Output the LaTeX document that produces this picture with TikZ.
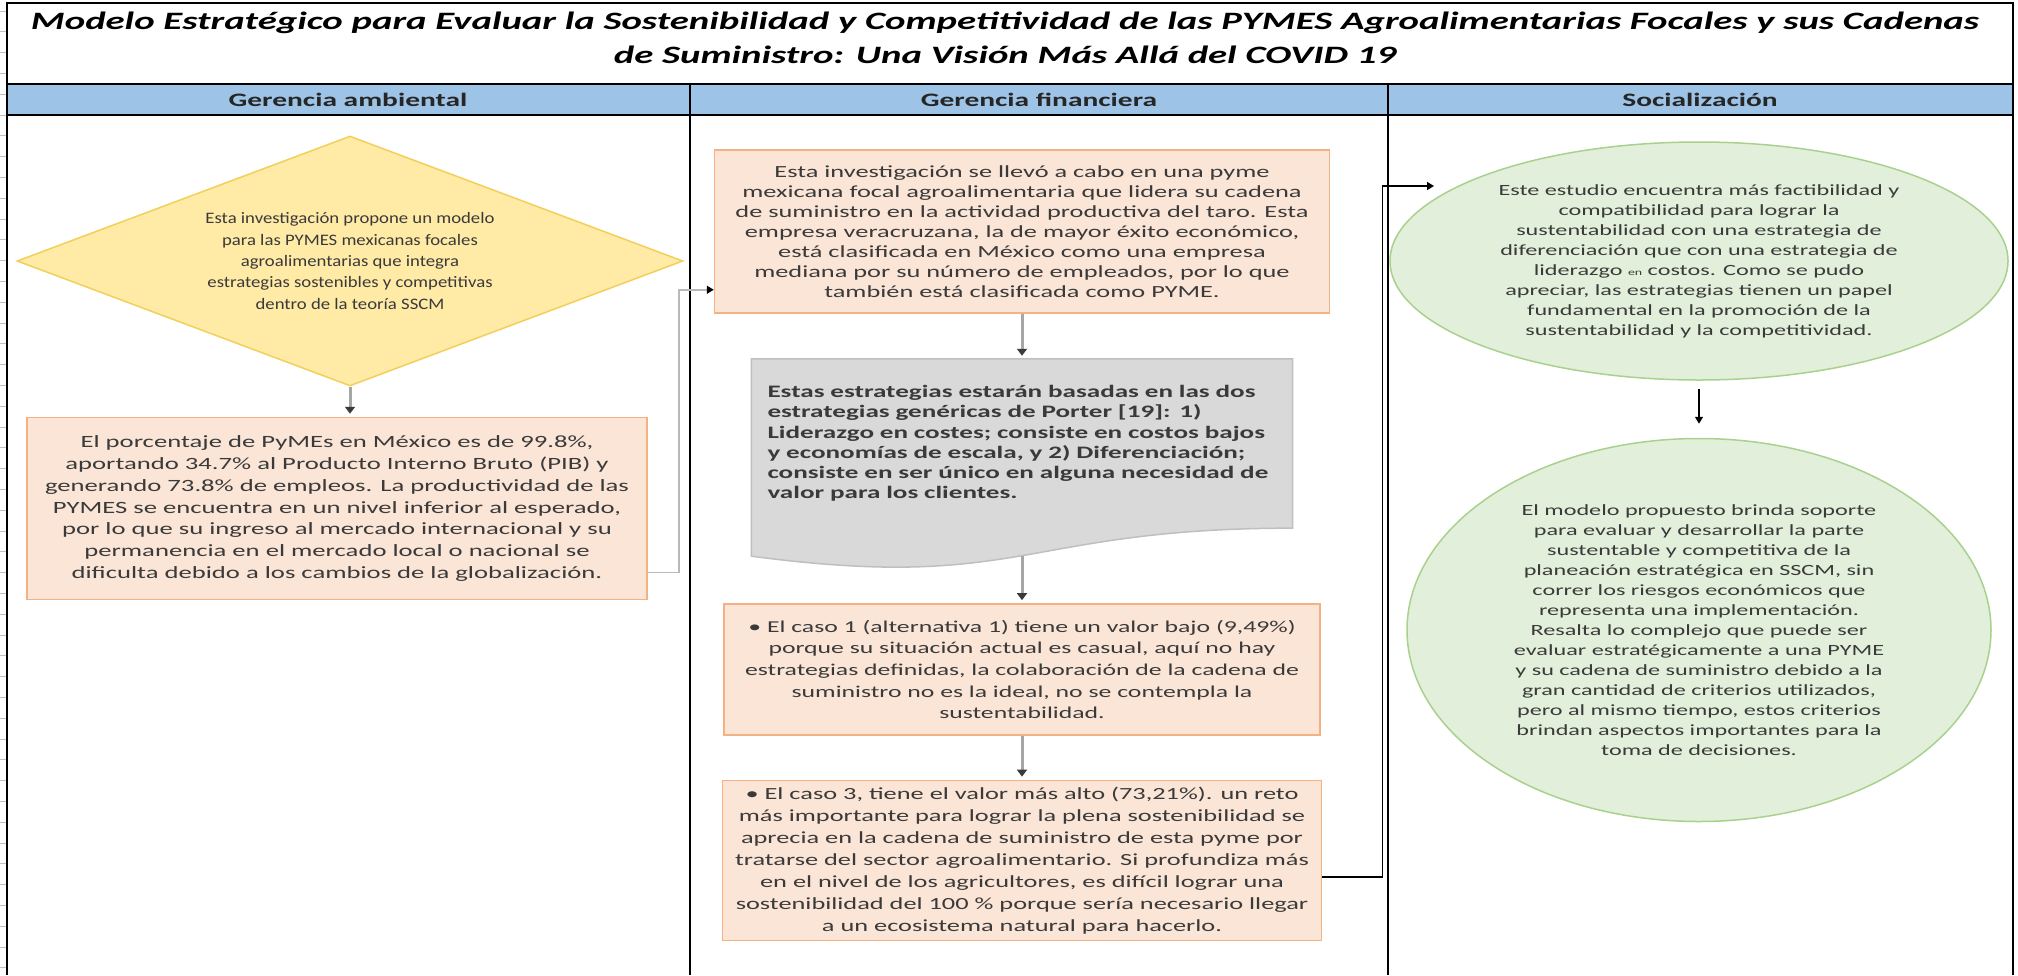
\documentclass[tikz,border=0pt]{standalone}
\usepackage{fontspec}
\setmainfont{Carlito}[FakeStretch=1.55]
\newfontfamily\dianarrow{Carlito}[FakeStretch=1.17]
\usetikzlibrary{arrows.meta,backgrounds,calc,positioning,shapes.geometric}

\definecolor{headblue}{HTML}{9DC3E6}
\definecolor{orfill}{HTML}{FBE5D6}
\definecolor{orline}{HTML}{F4B183}
\definecolor{yelfill}{HTML}{FFEAA6}
\definecolor{yelline}{HTML}{F2CF5B}
\definecolor{grfill}{HTML}{D9D9D9}
\definecolor{grline}{HTML}{BFBFBF}
\definecolor{gnfill}{HTML}{E2EFDA}
\definecolor{gnline}{HTML}{A9D18E}
\definecolor{inkgray}{HTML}{3A3A3A}

\begin{document}
\begin{tikzpicture}[x=1pt, y=1pt, node distance= 30pt,
    orangebox/.style={rectangle, draw=orline, fill=orfill, line width=1.5pt, inner sep=0pt, align=center, text=inkgray},
    decision/.style={diamond, draw=yelline, fill=yelfill, line width=1.5pt, inner sep=0pt, shape aspect=2.66, align=center, text=inkgray},
    docbox/.style={rectangle, inner sep=0pt, align=left, text=inkgray},
    greenoval/.style={ellipse, draw=gnline, fill=gnfill, line width=1.5pt, inner sep=0pt, align=center, text=inkgray},
    flow/.style={draw=gray!70, line width=3pt, shorten >=3pt, -{Triangle[width=10pt,length=7pt,color=inkgray]}},
    link/.style={line width=1.5pt, -{Triangle[width=8pt,length=7pt]}}]
      \useasboundingbox (0,0) rectangle (2018,-975);
      \foreach \k in {0,...,46}
        \draw[black!25, line width=1pt] (0,{-11-20.8*\k}) -- (6,{-11-20.8*\k});
      \draw[line width=2pt] (7,-975) -- (7,-3) -- (2013,-3) -- (2013,-975);
      \draw[line width=2pt, fill=headblue] (7,-84) rectangle (2013,-115);
      \draw[line width=2pt] (690,-84) -- (690,-975) (1388,-84) -- (1388,-975);

      \node (title) at (1005,-38) [font=\fontsize{25}{34}\selectfont\bfseries\itshape, align=center]
        {Modelo Estratégico para Evaluar la Sostenibilidad y Competitividad de las PYMES Agroalimentarias Focales y sus Cadenas\\de Suministro: Una Visión Más Allá del COVID 19};
      \begin{scope}[every node/.style={font=\fontsize{19}{20}\selectfont\bfseries, text=black!85}]
        \node (hamb) at (348,-100) {Gerencia ambiental};
        \node (hfin) at (1039,-100) {Gerencia financiera};
        \node (hsoc) at (1700,-100) {Socialización};
      \end{scope}

      \node (dia) at (350,-261) [decision, minimum width=666pt, minimum height=250pt, font=\dianarrow\fontsize{16}{21.3}\selectfont]
        {Esta investigación propone un modelo\\para las PYMES mexicanas focales\\agroalimentarias que integra\\estrategias sostenibles y competitivas\\dentro de la teoría SSCM};
      \node (pct) [orangebox, below=30pt of dia, xshift=-13pt, minimum width=620pt, minimum height=182pt, font=\fontsize{17.2}{21.8}\selectfont]
        {El porcentaje de PyMEs en México es de 99.8\%,\\aportando 34.7\% al Producto Interno Bruto (PIB) y\\generando 73.8\% de empleos. La productividad de las\\PYMES se encuentra en un nivel inferior al esperado,\\por lo que su ingreso al mercado internacional y su\\permanencia en el mercado local o nacional se\\dificulta debido a los cambios de la globalización.};

      \node (caso) at (1022,-231.5) [orangebox, minimum width=615pt, minimum height=163pt, font=\fontsize{17}{20}\selectfont]
        {Esta investigación se llevó a cabo en una pyme\\mexicana focal agroalimentaria que lidera su cadena\\de suministro en la actividad productiva del taro. Esta\\empresa veracruzana, la de mayor éxito económico,\\está clasificada en México como una empresa\\mediana por su número de empleados, por lo que\\también está clasificada como PYME.};
      \node (porter) [docbox, below=45pt of caso, minimum width=541pt, minimum height=169pt, text width=509pt, font=\fontsize{17.5}{20.3}\selectfont\bfseries]
        {Estas estrategias estarán basadas en las dos\\estrategias genéricas de Porter [19]: 1)\\Liderazgo en costes; consiste en costos bajos\\y economías de escala, y 2) Diferenciación;\\consiste en ser único en alguna necesidad de\\valor para los clientes.};
      \node (alt1) [orangebox, below=75pt of porter, minimum width=596pt, minimum height=131pt, font=\fontsize{16.6}{21.7}\selectfont]
        {• El caso 1 (alternativa 1) tiene un valor bajo (9,49\%)\\porque su situación actual es casual, aquí no hay\\estrategias definidas, la colaboración de la cadena de\\suministro no es la ideal, no se contempla la\\sustentabilidad.};
      \node (alt3) [orangebox, below=44pt of alt1, minimum width=599pt, minimum height=160pt, font=\fontsize{17}{22}\selectfont]
        {• El caso 3, tiene el valor más alto (73,21\%). un reto\\más importante para lograr la plena sostenibilidad se\\aprecia en la cadena de suministro de esta pyme por\\tratarse del sector agroalimentario. Si profundiza más\\en el nivel de los agricultores, es difícil lograr una\\sostenibilidad del 100 \% porque sería necesario llegar\\a un ecosistema natural para hacerlo.};

      \node (concl) at (1699,-261) [greenoval, minimum width=618pt, minimum height=238pt, font=\fontsize{15.6}{20}\selectfont]
        {Este estudio encuentra más factibilidad y\\compatibilidad para lograr la\\sustentabilidad con una estrategia de\\diferenciación que con una estrategia de\\liderazgo {\fontsize{9}{9}\selectfont en} costos. Como se pudo\\apreciar, las estrategias tienen un papel\\fundamental en la promoción de la\\sustentabilidad y la competitividad.};
      \node (model) [greenoval, below=57pt of concl, minimum width=584pt, minimum height=383pt, font=\fontsize{15.6}{20}\selectfont]
        {El modelo propuesto brinda soporte\\para evaluar y desarrollar la parte\\sustentable y competitiva de la\\planeación estratégica en SSCM, sin\\correr los riesgos económicos que\\representa una implementación.\\Resalta lo complejo que puede ser\\evaluar estratégicamente a una PYME\\y su cadena de suministro debido a la\\gran cantidad de criterios utilizados,\\pero al mismo tiempo, estos criterios\\brindan aspectos importantes para la\\toma de decisiones.};

      \begin{scope}[on background layer]
        \filldraw[draw=grline, fill=grfill, line width=1.5pt] (porter.north west) -- (porter.north east) -- (porter.south east)
          .. controls (porter.south) and ($(porter.south)+(0,-64)$) .. ($(porter.south west)+(0,-28)$) -- cycle;
      \end{scope}

      \coordinate (wave) at ($(porter.south)+(0,-27.6)$);
      \coordinate (enter) at ($(concl)+(-265,75)$);
      \draw[flow] (dia.south) -- (dia.south |- pct.north);
      \draw[flow] (caso) -- (porter);
      \draw[flow] (wave) -- (alt1);
      \draw[flow] (alt1) -- (alt3);
      \draw[link, draw=gray!55, -{Triangle[width=8pt,length=7pt,color=black]}] ($(pct.south east)+(0,28)$) -- ++(31,0) |- ($(caso.south west)+(0,24)$);
      \draw[link] ($(alt3.south east)+(0,64)$) -- ++(60,0) |- (enter);
      \draw[link, shorten <=8pt, shorten >=14pt] (concl) -- (model);
    \end{tikzpicture}
\end{document}
